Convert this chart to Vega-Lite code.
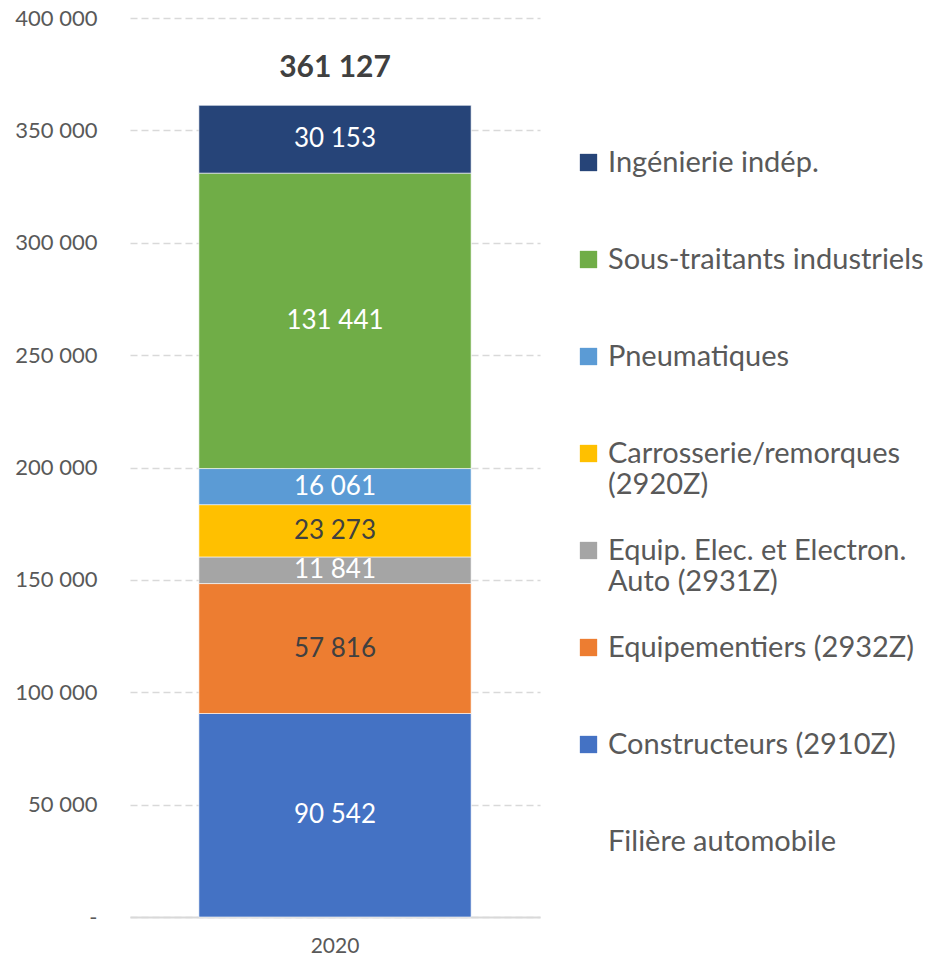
{
  "$schema": "https://vega.github.io/schema/vega-lite/v6.json",
  "width": 410,
  "height": 899,
  "autosize": "none",
  "padding": {"left": 130, "top": 18, "right": 396, "bottom": 43},
  "background": "white",
  "config": {
    "locale": {"number": {"decimal": ",", "thousands": "\u00a0", "grouping": [3], "currency": ["", "\u00a0€"]}},
    "view": {"stroke": null},
    "font": "Lato",
    "axisY": {
      "tickCount": 8,
      "format": ",d",
      "labelExpr": "datum.value === 0 ? '-' : datum.label",
      "grid": true,
      "gridDash": [7, 4],
      "gridColor": "#d9d9d9",
      "gridWidth": 1.5,
      "domain": false,
      "ticks": false,
      "labelPadding": 33,
      "labelFontSize": 22,
      "labelColor": "#595959"
    },
    "text": {"lineHeight": 40}
  },
  "data": {
    "values": [
      {"year": "2020", "cat": "Constructeurs (2910Z)", "value": 90542},
      {"year": "2020", "cat": "Equipementiers (2932Z)", "value": 57816},
      {"year": "2020", "cat": "Equip. Elec. et Electron. Auto (2931Z)", "value": 11841},
      {"year": "2020", "cat": "Carrosserie/remorques (2920Z)", "value": 23273},
      {"year": "2020", "cat": "Pneumatiques", "value": 16061},
      {"year": "2020", "cat": "Sous-traitants industriels", "value": 131441},
      {"year": "2020", "cat": "Ingénierie indép.", "value": 30153}
    ]
  },
  "transform": [
    {"calculate": "indexof(['Constructeurs (2910Z)','Equipementiers (2932Z)','Equip. Elec. et Electron. Auto (2931Z)','Carrosserie/remorques (2920Z)','Pneumatiques','Sous-traitants industriels','Ingénierie indép.'], datum.cat)", "as": "ord"}
  ],
  "encoding": {
    "x": {
      "field": "year",
      "type": "nominal",
      "scale": {"paddingInner": 0.336, "paddingOuter": 0.168},
      "axis": {
        "title": null,
        "labelAngle": 0,
        "ticks": false,
        "domain": true,
        "domainColor": "#d9d9d9",
        "domainWidth": 2,
        "grid": false,
        "labelFontSize": 21,
        "labelColor": "#595959",
        "labelPadding": 18
      }
    }
  },
  "layer": [
    {
      "mark": {"type": "bar", "stroke": "white", "strokeWidth": 0.6},
      "encoding": {
        "y": {
          "field": "value",
          "type": "quantitative",
          "stack": "zero",
          "title": null,
          "scale": {"domain": [0, 400000], "nice": false}
        },
        "color": {
          "field": "cat",
          "type": "nominal",
          "scale": {
            "domain": ["Ingénierie indép.", "Sous-traitants industriels", "Pneumatiques", "Carrosserie/remorques (2920Z)", "Equip. Elec. et Electron. Auto (2931Z)", "Equipementiers (2932Z)", "Constructeurs (2910Z)", "Filière automobile"],
            "range": ["#264478", "#70AD47", "#5B9BD5", "#FFC000", "#A5A5A5", "#ED7D31", "#4472C4", "rgba(0,0,0,0)"]
          },
          "legend": {
            "values": ["Ingénierie indép.", "Sous-traitants industriels", "Pneumatiques", "Carrosserie/remorques (2920Z)", "Equip. Elec. et Electron. Auto (2931Z)", "Equipementiers (2932Z)", "Constructeurs (2910Z)", "Filière automobile"],
            "orient": "none",
            "legendX": 444,
            "legendY": 130,
            "title": null,
            "columns": 1,
            "gridAlign": "all",
            "symbolType": "square",
            "symbolSize": 300,
            "symbolStrokeWidth": 0,
            "labelFontSize": 29,
            "labelColor": "#595959",
            "labelLimit": 400,
            "labelOffset": 5,
            "rowPadding": 36,
            "labelExpr": "datum.label === 'Carrosserie/remorques (2920Z)' ? ['Carrosserie/remorques', '(2920Z)'] : datum.label === 'Equip. Elec. et Electron. Auto (2931Z)' ? ['Equip. Elec. et Electron.', 'Auto (2931Z)'] : datum.label",
            "encode": {"labels": {"enter": {"lineHeight": {"value": 38}}, "update": {"lineHeight": {"value": 38}}}}
          }
        },
        "order": {"field": "ord", "type": "quantitative"}
      }
    },
    {
      "transform": [
        {"stack": "value", "groupby": ["year"], "sort": [{"field": "ord"}], "as": ["v0", "v1"]},
        {"calculate": "(datum.v0 + datum.v1) / 2", "as": "mid"}
      ],
      "mark": {"type": "text", "fontSize": 26, "baseline": "middle"},
      "encoding": {
        "y": {"field": "mid", "type": "quantitative", "title": null, "scale": {"domain": [0, 400000], "nice": false}},
        "text": {"field": "value", "type": "quantitative", "format": ",d"},
        "color": {
          "condition": {"test": "datum.cat === 'Carrosserie/remorques (2920Z)' || datum.cat === 'Equipementiers (2932Z)'", "value": "#404040"},
          "value": "white"
        }
      }
    },
    {
      "transform": [
        {"aggregate": [{"op": "sum", "field": "value", "as": "total"}], "groupby": ["year"]}
      ],
      "mark": {"type": "text", "fontSize": 30, "fontWeight": "bold", "baseline": "bottom", "dy": -22, "color": "#404040"},
      "encoding": {
        "y": {"field": "total", "type": "quantitative", "title": null, "scale": {"domain": [0, 400000], "nice": false}},
        "text": {"field": "total", "type": "quantitative", "format": ",d"}
      }
    }
  ]
}
